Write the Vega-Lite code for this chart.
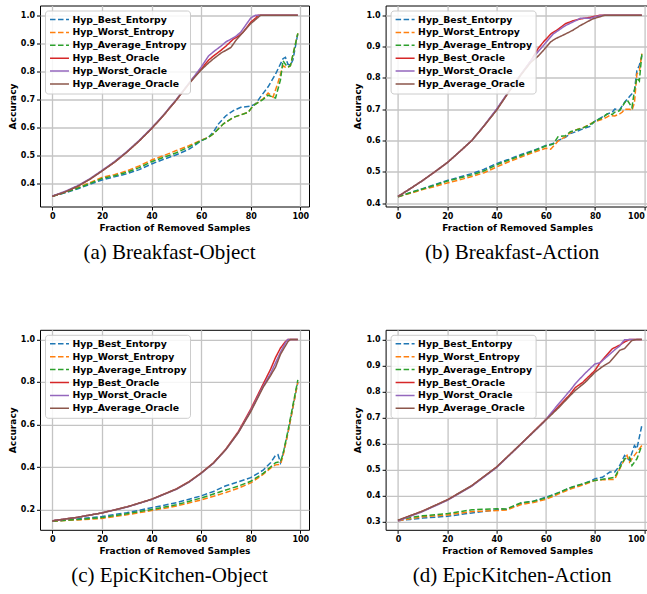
{
"$schema": "https://vega.github.io/schema/vega-lite/v6.json",
"background": "white",
"padding": {"left": 7, "top": 4.5, "right": 0, "bottom": 0},
"config": {
 "view": {"stroke": "black", "strokeWidth": 1},
 "axis": {"domain": false, "grid": true, "gridColor": "#c4c4c4", "gridWidth": 1.3, "tickColor": "black", "tickSize": 3.5, "labelFont": "DejaVu Sans", "labelFontWeight": "bold", "labelFontSize": 8, "labelColor": "black", "labelPadding": 2, "titleFont": "DejaVu Sans", "titleFontWeight": "bold", "titleFontSize": 9, "titleColor": "black"},
 "axisX": {"titlePadding": 3},
 "axisY": {"titlePadding": 3},
 "title": {"font": "Liberation Serif", "fontSize": 21, "fontWeight": "normal", "color": "black", "orient": "bottom", "anchor": "middle", "dx": -5, "offset": 10},
 "legend": {"orient": "top-left", "offset": 5, "title": null, "fillColor": "rgba(255,255,255,0.85)", "strokeColor": "#cccccc", "cornerRadius": 3, "padding": 3.5, "labelFont": "DejaVu Sans", "labelFontWeight": "bold", "labelFontSize": 9.3, "labelColor": "black", "symbolType": "M-2,0H2", "symbolSize": 90, "symbolStrokeWidth": 1.5, "symbolOffset": 5.5, "labelOffset": 7.5, "rowPadding": 1.9}
},
"datasets": {
 "d": [
  {"p":"a","s":"Hyp_Best_Entorpy","x":0,"y":0.355},{"p":"a","s":"Hyp_Best_Entorpy","x":5,"y":0.367},{"p":"a","s":"Hyp_Best_Entorpy","x":10,"y":0.381},{"p":"a","s":"Hyp_Best_Entorpy","x":15,"y":0.397},{"p":"a","s":"Hyp_Best_Entorpy","x":20,"y":0.413},{"p":"a","s":"Hyp_Best_Entorpy","x":25,"y":0.424},{"p":"a","s":"Hyp_Best_Entorpy","x":30,"y":0.435},{"p":"a","s":"Hyp_Best_Entorpy","x":35,"y":0.45},{"p":"a","s":"Hyp_Best_Entorpy","x":40,"y":0.47},{"p":"a","s":"Hyp_Best_Entorpy","x":45,"y":0.487},{"p":"a","s":"Hyp_Best_Entorpy","x":50,"y":0.503},{"p":"a","s":"Hyp_Best_Entorpy","x":55,"y":0.522},{"p":"a","s":"Hyp_Best_Entorpy","x":58,"y":0.54},{"p":"a","s":"Hyp_Best_Entorpy","x":60,"y":0.553},{"p":"a","s":"Hyp_Best_Entorpy","x":63,"y":0.565},{"p":"a","s":"Hyp_Best_Entorpy","x":65,"y":0.585},{"p":"a","s":"Hyp_Best_Entorpy","x":67,"y":0.613},{"p":"a","s":"Hyp_Best_Entorpy","x":70,"y":0.642},{"p":"a","s":"Hyp_Best_Entorpy","x":73,"y":0.66},{"p":"a","s":"Hyp_Best_Entorpy","x":76,"y":0.672},{"p":"a","s":"Hyp_Best_Entorpy","x":80,"y":0.676},{"p":"a","s":"Hyp_Best_Entorpy","x":82,"y":0.685},{"p":"a","s":"Hyp_Best_Entorpy","x":84,"y":0.71},{"p":"a","s":"Hyp_Best_Entorpy","x":87,"y":0.745},{"p":"a","s":"Hyp_Best_Entorpy","x":90,"y":0.79},{"p":"a","s":"Hyp_Best_Entorpy","x":93,"y":0.845},{"p":"a","s":"Hyp_Best_Entorpy","x":94,"y":0.85},{"p":"a","s":"Hyp_Best_Entorpy","x":95,"y":0.825},{"p":"a","s":"Hyp_Best_Entorpy","x":96,"y":0.822},{"p":"a","s":"Hyp_Best_Entorpy","x":97,"y":0.84},{"p":"a","s":"Hyp_Best_Entorpy","x":99,"y":0.935},
  {"p":"a","s":"Hyp_Worst_Entropy","x":0,"y":0.355},{"p":"a","s":"Hyp_Worst_Entropy","x":5,"y":0.37},{"p":"a","s":"Hyp_Worst_Entropy","x":10,"y":0.385},{"p":"a","s":"Hyp_Worst_Entropy","x":15,"y":0.403},{"p":"a","s":"Hyp_Worst_Entropy","x":20,"y":0.422},{"p":"a","s":"Hyp_Worst_Entropy","x":25,"y":0.432},{"p":"a","s":"Hyp_Worst_Entropy","x":30,"y":0.445},{"p":"a","s":"Hyp_Worst_Entropy","x":35,"y":0.463},{"p":"a","s":"Hyp_Worst_Entropy","x":40,"y":0.484},{"p":"a","s":"Hyp_Worst_Entropy","x":45,"y":0.5},{"p":"a","s":"Hyp_Worst_Entropy","x":50,"y":0.518},{"p":"a","s":"Hyp_Worst_Entropy","x":55,"y":0.535},{"p":"a","s":"Hyp_Worst_Entropy","x":60,"y":0.555},{"p":"a","s":"Hyp_Worst_Entropy","x":63,"y":0.565},{"p":"a","s":"Hyp_Worst_Entropy","x":65,"y":0.578},{"p":"a","s":"Hyp_Worst_Entropy","x":69,"y":0.613},{"p":"a","s":"Hyp_Worst_Entropy","x":73,"y":0.636},{"p":"a","s":"Hyp_Worst_Entropy","x":76,"y":0.645},{"p":"a","s":"Hyp_Worst_Entropy","x":79,"y":0.654},{"p":"a","s":"Hyp_Worst_Entropy","x":81,"y":0.678},{"p":"a","s":"Hyp_Worst_Entropy","x":85,"y":0.702},{"p":"a","s":"Hyp_Worst_Entropy","x":87,"y":0.723},{"p":"a","s":"Hyp_Worst_Entropy","x":89,"y":0.708},{"p":"a","s":"Hyp_Worst_Entropy","x":91,"y":0.76},{"p":"a","s":"Hyp_Worst_Entropy","x":93,"y":0.82},{"p":"a","s":"Hyp_Worst_Entropy","x":94,"y":0.815},{"p":"a","s":"Hyp_Worst_Entropy","x":95,"y":0.815},{"p":"a","s":"Hyp_Worst_Entropy","x":96,"y":0.82},{"p":"a","s":"Hyp_Worst_Entropy","x":99,"y":0.935},
  {"p":"a","s":"Hyp_Average_Entropy","x":0,"y":0.355},{"p":"a","s":"Hyp_Average_Entropy","x":5,"y":0.368},{"p":"a","s":"Hyp_Average_Entropy","x":10,"y":0.383},{"p":"a","s":"Hyp_Average_Entropy","x":15,"y":0.4},{"p":"a","s":"Hyp_Average_Entropy","x":20,"y":0.418},{"p":"a","s":"Hyp_Average_Entropy","x":25,"y":0.428},{"p":"a","s":"Hyp_Average_Entropy","x":30,"y":0.44},{"p":"a","s":"Hyp_Average_Entropy","x":35,"y":0.457},{"p":"a","s":"Hyp_Average_Entropy","x":40,"y":0.478},{"p":"a","s":"Hyp_Average_Entropy","x":45,"y":0.494},{"p":"a","s":"Hyp_Average_Entropy","x":50,"y":0.51},{"p":"a","s":"Hyp_Average_Entropy","x":55,"y":0.53},{"p":"a","s":"Hyp_Average_Entropy","x":60,"y":0.553},{"p":"a","s":"Hyp_Average_Entropy","x":63,"y":0.565},{"p":"a","s":"Hyp_Average_Entropy","x":65,"y":0.578},{"p":"a","s":"Hyp_Average_Entropy","x":69,"y":0.613},{"p":"a","s":"Hyp_Average_Entropy","x":73,"y":0.636},{"p":"a","s":"Hyp_Average_Entropy","x":76,"y":0.645},{"p":"a","s":"Hyp_Average_Entropy","x":79,"y":0.654},{"p":"a","s":"Hyp_Average_Entropy","x":81,"y":0.678},{"p":"a","s":"Hyp_Average_Entropy","x":85,"y":0.7},{"p":"a","s":"Hyp_Average_Entropy","x":87,"y":0.715},{"p":"a","s":"Hyp_Average_Entropy","x":90,"y":0.705},{"p":"a","s":"Hyp_Average_Entropy","x":92,"y":0.77},{"p":"a","s":"Hyp_Average_Entropy","x":93,"y":0.838},{"p":"a","s":"Hyp_Average_Entropy","x":94,"y":0.825},{"p":"a","s":"Hyp_Average_Entropy","x":95,"y":0.815},{"p":"a","s":"Hyp_Average_Entropy","x":96,"y":0.82},{"p":"a","s":"Hyp_Average_Entropy","x":99,"y":0.935},
  {"p":"a","s":"Hyp_Best_Oracle","x":0,"y":0.355},{"p":"a","s":"Hyp_Best_Oracle","x":5,"y":0.37},{"p":"a","s":"Hyp_Best_Oracle","x":10,"y":0.39},{"p":"a","s":"Hyp_Best_Oracle","x":15,"y":0.415},{"p":"a","s":"Hyp_Best_Oracle","x":20,"y":0.445},{"p":"a","s":"Hyp_Best_Oracle","x":25,"y":0.476},{"p":"a","s":"Hyp_Best_Oracle","x":30,"y":0.512},{"p":"a","s":"Hyp_Best_Oracle","x":35,"y":0.552},{"p":"a","s":"Hyp_Best_Oracle","x":40,"y":0.596},{"p":"a","s":"Hyp_Best_Oracle","x":45,"y":0.645},{"p":"a","s":"Hyp_Best_Oracle","x":50,"y":0.698},{"p":"a","s":"Hyp_Best_Oracle","x":55,"y":0.755},{"p":"a","s":"Hyp_Best_Oracle","x":57,"y":0.778},{"p":"a","s":"Hyp_Best_Oracle","x":60,"y":0.808},{"p":"a","s":"Hyp_Best_Oracle","x":63,"y":0.84},{"p":"a","s":"Hyp_Best_Oracle","x":65,"y":0.855},{"p":"a","s":"Hyp_Best_Oracle","x":68,"y":0.875},{"p":"a","s":"Hyp_Best_Oracle","x":70,"y":0.89},{"p":"a","s":"Hyp_Best_Oracle","x":73,"y":0.915},{"p":"a","s":"Hyp_Best_Oracle","x":75,"y":0.925},{"p":"a","s":"Hyp_Best_Oracle","x":77,"y":0.94},{"p":"a","s":"Hyp_Best_Oracle","x":80,"y":0.975},{"p":"a","s":"Hyp_Best_Oracle","x":82,"y":0.99},{"p":"a","s":"Hyp_Best_Oracle","x":83,"y":1.0},{"p":"a","s":"Hyp_Best_Oracle","x":99,"y":1.0},
  {"p":"a","s":"Hyp_Worst_Oracle","x":0,"y":0.356},{"p":"a","s":"Hyp_Worst_Oracle","x":5,"y":0.372},{"p":"a","s":"Hyp_Worst_Oracle","x":10,"y":0.392},{"p":"a","s":"Hyp_Worst_Oracle","x":15,"y":0.417},{"p":"a","s":"Hyp_Worst_Oracle","x":20,"y":0.447},{"p":"a","s":"Hyp_Worst_Oracle","x":25,"y":0.478},{"p":"a","s":"Hyp_Worst_Oracle","x":30,"y":0.514},{"p":"a","s":"Hyp_Worst_Oracle","x":35,"y":0.554},{"p":"a","s":"Hyp_Worst_Oracle","x":40,"y":0.598},{"p":"a","s":"Hyp_Worst_Oracle","x":45,"y":0.647},{"p":"a","s":"Hyp_Worst_Oracle","x":50,"y":0.7},{"p":"a","s":"Hyp_Worst_Oracle","x":55,"y":0.757},{"p":"a","s":"Hyp_Worst_Oracle","x":57,"y":0.78},{"p":"a","s":"Hyp_Worst_Oracle","x":60,"y":0.815},{"p":"a","s":"Hyp_Worst_Oracle","x":63,"y":0.855},{"p":"a","s":"Hyp_Worst_Oracle","x":65,"y":0.87},{"p":"a","s":"Hyp_Worst_Oracle","x":68,"y":0.89},{"p":"a","s":"Hyp_Worst_Oracle","x":70,"y":0.905},{"p":"a","s":"Hyp_Worst_Oracle","x":72,"y":0.915},{"p":"a","s":"Hyp_Worst_Oracle","x":74,"y":0.925},{"p":"a","s":"Hyp_Worst_Oracle","x":76,"y":0.94},{"p":"a","s":"Hyp_Worst_Oracle","x":78,"y":0.965},{"p":"a","s":"Hyp_Worst_Oracle","x":80,"y":0.99},{"p":"a","s":"Hyp_Worst_Oracle","x":82,"y":1.0},{"p":"a","s":"Hyp_Worst_Oracle","x":99,"y":1.0},
  {"p":"a","s":"Hyp_Average_Oracle","x":0,"y":0.355},{"p":"a","s":"Hyp_Average_Oracle","x":5,"y":0.37},{"p":"a","s":"Hyp_Average_Oracle","x":10,"y":0.39},{"p":"a","s":"Hyp_Average_Oracle","x":15,"y":0.415},{"p":"a","s":"Hyp_Average_Oracle","x":20,"y":0.445},{"p":"a","s":"Hyp_Average_Oracle","x":25,"y":0.476},{"p":"a","s":"Hyp_Average_Oracle","x":30,"y":0.512},{"p":"a","s":"Hyp_Average_Oracle","x":35,"y":0.552},{"p":"a","s":"Hyp_Average_Oracle","x":40,"y":0.596},{"p":"a","s":"Hyp_Average_Oracle","x":45,"y":0.645},{"p":"a","s":"Hyp_Average_Oracle","x":50,"y":0.698},{"p":"a","s":"Hyp_Average_Oracle","x":55,"y":0.755},{"p":"a","s":"Hyp_Average_Oracle","x":57,"y":0.775},{"p":"a","s":"Hyp_Average_Oracle","x":60,"y":0.805},{"p":"a","s":"Hyp_Average_Oracle","x":63,"y":0.83},{"p":"a","s":"Hyp_Average_Oracle","x":65,"y":0.845},{"p":"a","s":"Hyp_Average_Oracle","x":68,"y":0.865},{"p":"a","s":"Hyp_Average_Oracle","x":70,"y":0.875},{"p":"a","s":"Hyp_Average_Oracle","x":72,"y":0.885},{"p":"a","s":"Hyp_Average_Oracle","x":74,"y":0.91},{"p":"a","s":"Hyp_Average_Oracle","x":76,"y":0.93},{"p":"a","s":"Hyp_Average_Oracle","x":78,"y":0.95},{"p":"a","s":"Hyp_Average_Oracle","x":80,"y":0.97},{"p":"a","s":"Hyp_Average_Oracle","x":82,"y":0.985},{"p":"a","s":"Hyp_Average_Oracle","x":84,"y":1.0},{"p":"a","s":"Hyp_Average_Oracle","x":99,"y":1.0},

  {"p":"b","s":"Hyp_Best_Entorpy","x":0,"y":0.42},{"p":"b","s":"Hyp_Best_Entorpy","x":5,"y":0.433},{"p":"b","s":"Hyp_Best_Entorpy","x":10,"y":0.446},{"p":"b","s":"Hyp_Best_Entorpy","x":15,"y":0.459},{"p":"b","s":"Hyp_Best_Entorpy","x":20,"y":0.472},{"p":"b","s":"Hyp_Best_Entorpy","x":25,"y":0.483},{"p":"b","s":"Hyp_Best_Entorpy","x":30,"y":0.494},{"p":"b","s":"Hyp_Best_Entorpy","x":35,"y":0.508},{"p":"b","s":"Hyp_Best_Entorpy","x":40,"y":0.526},{"p":"b","s":"Hyp_Best_Entorpy","x":45,"y":0.54},{"p":"b","s":"Hyp_Best_Entorpy","x":50,"y":0.555},{"p":"b","s":"Hyp_Best_Entorpy","x":55,"y":0.568},{"p":"b","s":"Hyp_Best_Entorpy","x":60,"y":0.584},{"p":"b","s":"Hyp_Best_Entorpy","x":63,"y":0.59},{"p":"b","s":"Hyp_Best_Entorpy","x":65,"y":0.6},{"p":"b","s":"Hyp_Best_Entorpy","x":68,"y":0.61},{"p":"b","s":"Hyp_Best_Entorpy","x":70,"y":0.622},{"p":"b","s":"Hyp_Best_Entorpy","x":73,"y":0.63},{"p":"b","s":"Hyp_Best_Entorpy","x":75,"y":0.637},{"p":"b","s":"Hyp_Best_Entorpy","x":78,"y":0.645},{"p":"b","s":"Hyp_Best_Entorpy","x":80,"y":0.662},{"p":"b","s":"Hyp_Best_Entorpy","x":83,"y":0.675},{"p":"b","s":"Hyp_Best_Entorpy","x":85,"y":0.685},{"p":"b","s":"Hyp_Best_Entorpy","x":87,"y":0.69},{"p":"b","s":"Hyp_Best_Entorpy","x":88,"y":0.7},{"p":"b","s":"Hyp_Best_Entorpy","x":90,"y":0.698},{"p":"b","s":"Hyp_Best_Entorpy","x":92,"y":0.722},{"p":"b","s":"Hyp_Best_Entorpy","x":94,"y":0.74},{"p":"b","s":"Hyp_Best_Entorpy","x":95,"y":0.749},{"p":"b","s":"Hyp_Best_Entorpy","x":96,"y":0.76},{"p":"b","s":"Hyp_Best_Entorpy","x":97,"y":0.823},{"p":"b","s":"Hyp_Best_Entorpy","x":98,"y":0.84},{"p":"b","s":"Hyp_Best_Entorpy","x":99,"y":0.871},
  {"p":"b","s":"Hyp_Worst_Entropy","x":0,"y":0.42},{"p":"b","s":"Hyp_Worst_Entropy","x":5,"y":0.431},{"p":"b","s":"Hyp_Worst_Entropy","x":10,"y":0.443},{"p":"b","s":"Hyp_Worst_Entropy","x":15,"y":0.453},{"p":"b","s":"Hyp_Worst_Entropy","x":20,"y":0.464},{"p":"b","s":"Hyp_Worst_Entropy","x":25,"y":0.474},{"p":"b","s":"Hyp_Worst_Entropy","x":30,"y":0.485},{"p":"b","s":"Hyp_Worst_Entropy","x":35,"y":0.497},{"p":"b","s":"Hyp_Worst_Entropy","x":40,"y":0.515},{"p":"b","s":"Hyp_Worst_Entropy","x":45,"y":0.532},{"p":"b","s":"Hyp_Worst_Entropy","x":50,"y":0.547},{"p":"b","s":"Hyp_Worst_Entropy","x":55,"y":0.562},{"p":"b","s":"Hyp_Worst_Entropy","x":60,"y":0.575},{"p":"b","s":"Hyp_Worst_Entropy","x":62,"y":0.572},{"p":"b","s":"Hyp_Worst_Entropy","x":65,"y":0.598},{"p":"b","s":"Hyp_Worst_Entropy","x":68,"y":0.612},{"p":"b","s":"Hyp_Worst_Entropy","x":70,"y":0.625},{"p":"b","s":"Hyp_Worst_Entropy","x":73,"y":0.636},{"p":"b","s":"Hyp_Worst_Entropy","x":75,"y":0.64},{"p":"b","s":"Hyp_Worst_Entropy","x":78,"y":0.653},{"p":"b","s":"Hyp_Worst_Entropy","x":80,"y":0.66},{"p":"b","s":"Hyp_Worst_Entropy","x":83,"y":0.668},{"p":"b","s":"Hyp_Worst_Entropy","x":85,"y":0.675},{"p":"b","s":"Hyp_Worst_Entropy","x":86,"y":0.68},{"p":"b","s":"Hyp_Worst_Entropy","x":88,"y":0.678},{"p":"b","s":"Hyp_Worst_Entropy","x":90,"y":0.685},{"p":"b","s":"Hyp_Worst_Entropy","x":91,"y":0.69},{"p":"b","s":"Hyp_Worst_Entropy","x":92,"y":0.7},{"p":"b","s":"Hyp_Worst_Entropy","x":94,"y":0.7},{"p":"b","s":"Hyp_Worst_Entropy","x":95,"y":0.696},{"p":"b","s":"Hyp_Worst_Entropy","x":96,"y":0.72},{"p":"b","s":"Hyp_Worst_Entropy","x":97,"y":0.813},{"p":"b","s":"Hyp_Worst_Entropy","x":98,"y":0.82},{"p":"b","s":"Hyp_Worst_Entropy","x":99,"y":0.877},
  {"p":"b","s":"Hyp_Average_Entropy","x":0,"y":0.42},{"p":"b","s":"Hyp_Average_Entropy","x":5,"y":0.433},{"p":"b","s":"Hyp_Average_Entropy","x":10,"y":0.445},{"p":"b","s":"Hyp_Average_Entropy","x":15,"y":0.457},{"p":"b","s":"Hyp_Average_Entropy","x":20,"y":0.47},{"p":"b","s":"Hyp_Average_Entropy","x":25,"y":0.48},{"p":"b","s":"Hyp_Average_Entropy","x":30,"y":0.49},{"p":"b","s":"Hyp_Average_Entropy","x":35,"y":0.503},{"p":"b","s":"Hyp_Average_Entropy","x":40,"y":0.522},{"p":"b","s":"Hyp_Average_Entropy","x":45,"y":0.537},{"p":"b","s":"Hyp_Average_Entropy","x":50,"y":0.552},{"p":"b","s":"Hyp_Average_Entropy","x":55,"y":0.566},{"p":"b","s":"Hyp_Average_Entropy","x":60,"y":0.582},{"p":"b","s":"Hyp_Average_Entropy","x":63,"y":0.588},{"p":"b","s":"Hyp_Average_Entropy","x":65,"y":0.612},{"p":"b","s":"Hyp_Average_Entropy","x":68,"y":0.615},{"p":"b","s":"Hyp_Average_Entropy","x":70,"y":0.628},{"p":"b","s":"Hyp_Average_Entropy","x":73,"y":0.635},{"p":"b","s":"Hyp_Average_Entropy","x":75,"y":0.64},{"p":"b","s":"Hyp_Average_Entropy","x":78,"y":0.65},{"p":"b","s":"Hyp_Average_Entropy","x":80,"y":0.662},{"p":"b","s":"Hyp_Average_Entropy","x":83,"y":0.672},{"p":"b","s":"Hyp_Average_Entropy","x":85,"y":0.685},{"p":"b","s":"Hyp_Average_Entropy","x":87,"y":0.683},{"p":"b","s":"Hyp_Average_Entropy","x":88,"y":0.69},{"p":"b","s":"Hyp_Average_Entropy","x":90,"y":0.695},{"p":"b","s":"Hyp_Average_Entropy","x":92,"y":0.72},{"p":"b","s":"Hyp_Average_Entropy","x":93,"y":0.73},{"p":"b","s":"Hyp_Average_Entropy","x":95,"y":0.705},{"p":"b","s":"Hyp_Average_Entropy","x":96,"y":0.76},{"p":"b","s":"Hyp_Average_Entropy","x":97,"y":0.8},{"p":"b","s":"Hyp_Average_Entropy","x":98,"y":0.79},{"p":"b","s":"Hyp_Average_Entropy","x":99,"y":0.875},
  {"p":"b","s":"Hyp_Best_Oracle","x":0,"y":0.421},{"p":"b","s":"Hyp_Best_Oracle","x":5,"y":0.446},{"p":"b","s":"Hyp_Best_Oracle","x":10,"y":0.472},{"p":"b","s":"Hyp_Best_Oracle","x":15,"y":0.5},{"p":"b","s":"Hyp_Best_Oracle","x":20,"y":0.529},{"p":"b","s":"Hyp_Best_Oracle","x":25,"y":0.564},{"p":"b","s":"Hyp_Best_Oracle","x":30,"y":0.6},{"p":"b","s":"Hyp_Best_Oracle","x":35,"y":0.647},{"p":"b","s":"Hyp_Best_Oracle","x":40,"y":0.698},{"p":"b","s":"Hyp_Best_Oracle","x":45,"y":0.755},{"p":"b","s":"Hyp_Best_Oracle","x":50,"y":0.812},{"p":"b","s":"Hyp_Best_Oracle","x":54,"y":0.855},{"p":"b","s":"Hyp_Best_Oracle","x":57,"y":0.895},{"p":"b","s":"Hyp_Best_Oracle","x":59,"y":0.914},{"p":"b","s":"Hyp_Best_Oracle","x":62,"y":0.94},{"p":"b","s":"Hyp_Best_Oracle","x":65,"y":0.955},{"p":"b","s":"Hyp_Best_Oracle","x":68,"y":0.973},{"p":"b","s":"Hyp_Best_Oracle","x":71,"y":0.982},{"p":"b","s":"Hyp_Best_Oracle","x":74,"y":0.988},{"p":"b","s":"Hyp_Best_Oracle","x":78,"y":0.993},{"p":"b","s":"Hyp_Best_Oracle","x":82,"y":1.0},{"p":"b","s":"Hyp_Best_Oracle","x":99,"y":1.0},
  {"p":"b","s":"Hyp_Worst_Oracle","x":0,"y":0.421},{"p":"b","s":"Hyp_Worst_Oracle","x":5,"y":0.446},{"p":"b","s":"Hyp_Worst_Oracle","x":10,"y":0.472},{"p":"b","s":"Hyp_Worst_Oracle","x":15,"y":0.5},{"p":"b","s":"Hyp_Worst_Oracle","x":20,"y":0.529},{"p":"b","s":"Hyp_Worst_Oracle","x":25,"y":0.564},{"p":"b","s":"Hyp_Worst_Oracle","x":30,"y":0.6},{"p":"b","s":"Hyp_Worst_Oracle","x":35,"y":0.648},{"p":"b","s":"Hyp_Worst_Oracle","x":40,"y":0.7},{"p":"b","s":"Hyp_Worst_Oracle","x":45,"y":0.757},{"p":"b","s":"Hyp_Worst_Oracle","x":50,"y":0.812},{"p":"b","s":"Hyp_Worst_Oracle","x":54,"y":0.855},{"p":"b","s":"Hyp_Worst_Oracle","x":57,"y":0.885},{"p":"b","s":"Hyp_Worst_Oracle","x":59,"y":0.903},{"p":"b","s":"Hyp_Worst_Oracle","x":63,"y":0.94},{"p":"b","s":"Hyp_Worst_Oracle","x":68,"y":0.967},{"p":"b","s":"Hyp_Worst_Oracle","x":72,"y":0.982},{"p":"b","s":"Hyp_Worst_Oracle","x":74,"y":0.99},{"p":"b","s":"Hyp_Worst_Oracle","x":78,"y":0.99},{"p":"b","s":"Hyp_Worst_Oracle","x":80,"y":0.995},{"p":"b","s":"Hyp_Worst_Oracle","x":83,"y":1.0},{"p":"b","s":"Hyp_Worst_Oracle","x":99,"y":1.0},
  {"p":"b","s":"Hyp_Average_Oracle","x":0,"y":0.421},{"p":"b","s":"Hyp_Average_Oracle","x":5,"y":0.446},{"p":"b","s":"Hyp_Average_Oracle","x":10,"y":0.472},{"p":"b","s":"Hyp_Average_Oracle","x":15,"y":0.5},{"p":"b","s":"Hyp_Average_Oracle","x":20,"y":0.529},{"p":"b","s":"Hyp_Average_Oracle","x":25,"y":0.564},{"p":"b","s":"Hyp_Average_Oracle","x":30,"y":0.6},{"p":"b","s":"Hyp_Average_Oracle","x":35,"y":0.647},{"p":"b","s":"Hyp_Average_Oracle","x":40,"y":0.696},{"p":"b","s":"Hyp_Average_Oracle","x":45,"y":0.755},{"p":"b","s":"Hyp_Average_Oracle","x":50,"y":0.81},{"p":"b","s":"Hyp_Average_Oracle","x":54,"y":0.85},{"p":"b","s":"Hyp_Average_Oracle","x":57,"y":0.87},{"p":"b","s":"Hyp_Average_Oracle","x":59,"y":0.887},{"p":"b","s":"Hyp_Average_Oracle","x":62,"y":0.915},{"p":"b","s":"Hyp_Average_Oracle","x":64,"y":0.925},{"p":"b","s":"Hyp_Average_Oracle","x":68,"y":0.94},{"p":"b","s":"Hyp_Average_Oracle","x":71,"y":0.952},{"p":"b","s":"Hyp_Average_Oracle","x":74,"y":0.967},{"p":"b","s":"Hyp_Average_Oracle","x":79,"y":0.988},{"p":"b","s":"Hyp_Average_Oracle","x":84,"y":1.0},{"p":"b","s":"Hyp_Average_Oracle","x":99,"y":1.0},

  {"p":"c","s":"Hyp_Best_Entorpy","x":0,"y":0.145},{"p":"c","s":"Hyp_Best_Entorpy","x":10,"y":0.155},{"p":"c","s":"Hyp_Best_Entorpy","x":20,"y":0.167},{"p":"c","s":"Hyp_Best_Entorpy","x":30,"y":0.185},{"p":"c","s":"Hyp_Best_Entorpy","x":40,"y":0.208},{"p":"c","s":"Hyp_Best_Entorpy","x":50,"y":0.232},{"p":"c","s":"Hyp_Best_Entorpy","x":60,"y":0.264},{"p":"c","s":"Hyp_Best_Entorpy","x":65,"y":0.285},{"p":"c","s":"Hyp_Best_Entorpy","x":70,"y":0.312},{"p":"c","s":"Hyp_Best_Entorpy","x":75,"y":0.33},{"p":"c","s":"Hyp_Best_Entorpy","x":80,"y":0.35},{"p":"c","s":"Hyp_Best_Entorpy","x":85,"y":0.385},{"p":"c","s":"Hyp_Best_Entorpy","x":88,"y":0.42},{"p":"c","s":"Hyp_Best_Entorpy","x":90,"y":0.455},{"p":"c","s":"Hyp_Best_Entorpy","x":91,"y":0.458},{"p":"c","s":"Hyp_Best_Entorpy","x":92,"y":0.42},{"p":"c","s":"Hyp_Best_Entorpy","x":93,"y":0.46},{"p":"c","s":"Hyp_Best_Entorpy","x":95,"y":0.56},{"p":"c","s":"Hyp_Best_Entorpy","x":97,"y":0.68},{"p":"c","s":"Hyp_Best_Entorpy","x":99,"y":0.8},
  {"p":"c","s":"Hyp_Worst_Entropy","x":0,"y":0.145},{"p":"c","s":"Hyp_Worst_Entropy","x":10,"y":0.151},{"p":"c","s":"Hyp_Worst_Entropy","x":20,"y":0.158},{"p":"c","s":"Hyp_Worst_Entropy","x":30,"y":0.175},{"p":"c","s":"Hyp_Worst_Entropy","x":40,"y":0.195},{"p":"c","s":"Hyp_Worst_Entropy","x":50,"y":0.216},{"p":"c","s":"Hyp_Worst_Entropy","x":60,"y":0.245},{"p":"c","s":"Hyp_Worst_Entropy","x":70,"y":0.28},{"p":"c","s":"Hyp_Worst_Entropy","x":75,"y":0.3},{"p":"c","s":"Hyp_Worst_Entropy","x":80,"y":0.325},{"p":"c","s":"Hyp_Worst_Entropy","x":85,"y":0.365},{"p":"c","s":"Hyp_Worst_Entropy","x":88,"y":0.395},{"p":"c","s":"Hyp_Worst_Entropy","x":90,"y":0.41},{"p":"c","s":"Hyp_Worst_Entropy","x":92,"y":0.413},{"p":"c","s":"Hyp_Worst_Entropy","x":93,"y":0.45},{"p":"c","s":"Hyp_Worst_Entropy","x":95,"y":0.56},{"p":"c","s":"Hyp_Worst_Entropy","x":97,"y":0.68},{"p":"c","s":"Hyp_Worst_Entropy","x":99,"y":0.8},
  {"p":"c","s":"Hyp_Average_Entropy","x":0,"y":0.145},{"p":"c","s":"Hyp_Average_Entropy","x":10,"y":0.153},{"p":"c","s":"Hyp_Average_Entropy","x":20,"y":0.162},{"p":"c","s":"Hyp_Average_Entropy","x":30,"y":0.18},{"p":"c","s":"Hyp_Average_Entropy","x":40,"y":0.2},{"p":"c","s":"Hyp_Average_Entropy","x":50,"y":0.222},{"p":"c","s":"Hyp_Average_Entropy","x":60,"y":0.254},{"p":"c","s":"Hyp_Average_Entropy","x":70,"y":0.292},{"p":"c","s":"Hyp_Average_Entropy","x":75,"y":0.31},{"p":"c","s":"Hyp_Average_Entropy","x":80,"y":0.333},{"p":"c","s":"Hyp_Average_Entropy","x":85,"y":0.37},{"p":"c","s":"Hyp_Average_Entropy","x":88,"y":0.4},{"p":"c","s":"Hyp_Average_Entropy","x":90,"y":0.42},{"p":"c","s":"Hyp_Average_Entropy","x":92,"y":0.425},{"p":"c","s":"Hyp_Average_Entropy","x":93,"y":0.46},{"p":"c","s":"Hyp_Average_Entropy","x":95,"y":0.57},{"p":"c","s":"Hyp_Average_Entropy","x":97,"y":0.69},{"p":"c","s":"Hyp_Average_Entropy","x":99,"y":0.81},
  {"p":"c","s":"Hyp_Best_Oracle","x":0,"y":0.147},{"p":"c","s":"Hyp_Best_Oracle","x":10,"y":0.163},{"p":"c","s":"Hyp_Best_Oracle","x":20,"y":0.184},{"p":"c","s":"Hyp_Best_Oracle","x":30,"y":0.212},{"p":"c","s":"Hyp_Best_Oracle","x":40,"y":0.248},{"p":"c","s":"Hyp_Best_Oracle","x":50,"y":0.297},{"p":"c","s":"Hyp_Best_Oracle","x":55,"y":0.33},{"p":"c","s":"Hyp_Best_Oracle","x":60,"y":0.372},{"p":"c","s":"Hyp_Best_Oracle","x":65,"y":0.42},{"p":"c","s":"Hyp_Best_Oracle","x":70,"y":0.485},{"p":"c","s":"Hyp_Best_Oracle","x":75,"y":0.567},{"p":"c","s":"Hyp_Best_Oracle","x":80,"y":0.672},{"p":"c","s":"Hyp_Best_Oracle","x":85,"y":0.79},{"p":"c","s":"Hyp_Best_Oracle","x":88,"y":0.86},{"p":"c","s":"Hyp_Best_Oracle","x":90,"y":0.915},{"p":"c","s":"Hyp_Best_Oracle","x":92,"y":0.96},{"p":"c","s":"Hyp_Best_Oracle","x":94,"y":0.99},{"p":"c","s":"Hyp_Best_Oracle","x":95,"y":1.0},{"p":"c","s":"Hyp_Best_Oracle","x":99,"y":1.0},
  {"p":"c","s":"Hyp_Worst_Oracle","x":0,"y":0.147},{"p":"c","s":"Hyp_Worst_Oracle","x":10,"y":0.163},{"p":"c","s":"Hyp_Worst_Oracle","x":20,"y":0.184},{"p":"c","s":"Hyp_Worst_Oracle","x":30,"y":0.211},{"p":"c","s":"Hyp_Worst_Oracle","x":40,"y":0.247},{"p":"c","s":"Hyp_Worst_Oracle","x":50,"y":0.295},{"p":"c","s":"Hyp_Worst_Oracle","x":55,"y":0.328},{"p":"c","s":"Hyp_Worst_Oracle","x":60,"y":0.37},{"p":"c","s":"Hyp_Worst_Oracle","x":65,"y":0.418},{"p":"c","s":"Hyp_Worst_Oracle","x":70,"y":0.482},{"p":"c","s":"Hyp_Worst_Oracle","x":75,"y":0.562},{"p":"c","s":"Hyp_Worst_Oracle","x":80,"y":0.665},{"p":"c","s":"Hyp_Worst_Oracle","x":85,"y":0.78},{"p":"c","s":"Hyp_Worst_Oracle","x":88,"y":0.84},{"p":"c","s":"Hyp_Worst_Oracle","x":90,"y":0.89},{"p":"c","s":"Hyp_Worst_Oracle","x":92,"y":0.94},{"p":"c","s":"Hyp_Worst_Oracle","x":94,"y":0.985},{"p":"c","s":"Hyp_Worst_Oracle","x":95,"y":1.0},{"p":"c","s":"Hyp_Worst_Oracle","x":99,"y":1.0},
  {"p":"c","s":"Hyp_Average_Oracle","x":0,"y":0.147},{"p":"c","s":"Hyp_Average_Oracle","x":10,"y":0.163},{"p":"c","s":"Hyp_Average_Oracle","x":20,"y":0.184},{"p":"c","s":"Hyp_Average_Oracle","x":30,"y":0.212},{"p":"c","s":"Hyp_Average_Oracle","x":40,"y":0.248},{"p":"c","s":"Hyp_Average_Oracle","x":50,"y":0.296},{"p":"c","s":"Hyp_Average_Oracle","x":55,"y":0.329},{"p":"c","s":"Hyp_Average_Oracle","x":60,"y":0.371},{"p":"c","s":"Hyp_Average_Oracle","x":65,"y":0.419},{"p":"c","s":"Hyp_Average_Oracle","x":70,"y":0.483},{"p":"c","s":"Hyp_Average_Oracle","x":75,"y":0.562},{"p":"c","s":"Hyp_Average_Oracle","x":80,"y":0.66},{"p":"c","s":"Hyp_Average_Oracle","x":85,"y":0.775},{"p":"c","s":"Hyp_Average_Oracle","x":88,"y":0.83},{"p":"c","s":"Hyp_Average_Oracle","x":90,"y":0.87},{"p":"c","s":"Hyp_Average_Oracle","x":92,"y":0.93},{"p":"c","s":"Hyp_Average_Oracle","x":94,"y":0.97},{"p":"c","s":"Hyp_Average_Oracle","x":95,"y":0.99},{"p":"c","s":"Hyp_Average_Oracle","x":96,"y":1.0},{"p":"c","s":"Hyp_Average_Oracle","x":99,"y":1.0},

  {"p":"d","s":"Hyp_Best_Entorpy","x":0,"y":0.303},{"p":"d","s":"Hyp_Best_Entorpy","x":5,"y":0.308},{"p":"d","s":"Hyp_Best_Entorpy","x":10,"y":0.313},{"p":"d","s":"Hyp_Best_Entorpy","x":20,"y":0.32},{"p":"d","s":"Hyp_Best_Entorpy","x":30,"y":0.333},{"p":"d","s":"Hyp_Best_Entorpy","x":40,"y":0.345},{"p":"d","s":"Hyp_Best_Entorpy","x":44,"y":0.347},{"p":"d","s":"Hyp_Best_Entorpy","x":50,"y":0.37},{"p":"d","s":"Hyp_Best_Entorpy","x":55,"y":0.378},{"p":"d","s":"Hyp_Best_Entorpy","x":60,"y":0.393},{"p":"d","s":"Hyp_Best_Entorpy","x":65,"y":0.41},{"p":"d","s":"Hyp_Best_Entorpy","x":70,"y":0.43},{"p":"d","s":"Hyp_Best_Entorpy","x":75,"y":0.443},{"p":"d","s":"Hyp_Best_Entorpy","x":80,"y":0.464},{"p":"d","s":"Hyp_Best_Entorpy","x":83,"y":0.47},{"p":"d","s":"Hyp_Best_Entorpy","x":86,"y":0.49},{"p":"d","s":"Hyp_Best_Entorpy","x":88,"y":0.49},{"p":"d","s":"Hyp_Best_Entorpy","x":90,"y":0.515},{"p":"d","s":"Hyp_Best_Entorpy","x":92,"y":0.554},{"p":"d","s":"Hyp_Best_Entorpy","x":94,"y":0.535},{"p":"d","s":"Hyp_Best_Entorpy","x":96,"y":0.592},{"p":"d","s":"Hyp_Best_Entorpy","x":97,"y":0.58},{"p":"d","s":"Hyp_Best_Entorpy","x":99,"y":0.669},
  {"p":"d","s":"Hyp_Worst_Entropy","x":0,"y":0.303},{"p":"d","s":"Hyp_Worst_Entropy","x":5,"y":0.31},{"p":"d","s":"Hyp_Worst_Entropy","x":10,"y":0.318},{"p":"d","s":"Hyp_Worst_Entropy","x":20,"y":0.325},{"p":"d","s":"Hyp_Worst_Entropy","x":30,"y":0.338},{"p":"d","s":"Hyp_Worst_Entropy","x":40,"y":0.342},{"p":"d","s":"Hyp_Worst_Entropy","x":44,"y":0.344},{"p":"d","s":"Hyp_Worst_Entropy","x":50,"y":0.365},{"p":"d","s":"Hyp_Worst_Entropy","x":55,"y":0.373},{"p":"d","s":"Hyp_Worst_Entropy","x":60,"y":0.385},{"p":"d","s":"Hyp_Worst_Entropy","x":65,"y":0.405},{"p":"d","s":"Hyp_Worst_Entropy","x":70,"y":0.425},{"p":"d","s":"Hyp_Worst_Entropy","x":75,"y":0.44},{"p":"d","s":"Hyp_Worst_Entropy","x":80,"y":0.458},{"p":"d","s":"Hyp_Worst_Entropy","x":83,"y":0.46},{"p":"d","s":"Hyp_Worst_Entropy","x":88,"y":0.462},{"p":"d","s":"Hyp_Worst_Entropy","x":91,"y":0.522},{"p":"d","s":"Hyp_Worst_Entropy","x":93,"y":0.554},{"p":"d","s":"Hyp_Worst_Entropy","x":94,"y":0.528},{"p":"d","s":"Hyp_Worst_Entropy","x":96,"y":0.554},{"p":"d","s":"Hyp_Worst_Entropy","x":99,"y":0.592},
  {"p":"d","s":"Hyp_Average_Entropy","x":0,"y":0.305},{"p":"d","s":"Hyp_Average_Entropy","x":5,"y":0.315},{"p":"d","s":"Hyp_Average_Entropy","x":10,"y":0.322},{"p":"d","s":"Hyp_Average_Entropy","x":20,"y":0.33},{"p":"d","s":"Hyp_Average_Entropy","x":30,"y":0.345},{"p":"d","s":"Hyp_Average_Entropy","x":40,"y":0.349},{"p":"d","s":"Hyp_Average_Entropy","x":44,"y":0.348},{"p":"d","s":"Hyp_Average_Entropy","x":50,"y":0.372},{"p":"d","s":"Hyp_Average_Entropy","x":55,"y":0.378},{"p":"d","s":"Hyp_Average_Entropy","x":60,"y":0.39},{"p":"d","s":"Hyp_Average_Entropy","x":65,"y":0.41},{"p":"d","s":"Hyp_Average_Entropy","x":70,"y":0.43},{"p":"d","s":"Hyp_Average_Entropy","x":75,"y":0.445},{"p":"d","s":"Hyp_Average_Entropy","x":80,"y":0.458},{"p":"d","s":"Hyp_Average_Entropy","x":83,"y":0.462},{"p":"d","s":"Hyp_Average_Entropy","x":88,"y":0.47},{"p":"d","s":"Hyp_Average_Entropy","x":92,"y":0.541},{"p":"d","s":"Hyp_Average_Entropy","x":94,"y":0.547},{"p":"d","s":"Hyp_Average_Entropy","x":95,"y":0.515},{"p":"d","s":"Hyp_Average_Entropy","x":97,"y":0.541},{"p":"d","s":"Hyp_Average_Entropy","x":99,"y":0.592},
  {"p":"d","s":"Hyp_Best_Oracle","x":0,"y":0.304},{"p":"d","s":"Hyp_Best_Oracle","x":10,"y":0.34},{"p":"d","s":"Hyp_Best_Oracle","x":20,"y":0.383},{"p":"d","s":"Hyp_Best_Oracle","x":30,"y":0.438},{"p":"d","s":"Hyp_Best_Oracle","x":40,"y":0.509},{"p":"d","s":"Hyp_Best_Oracle","x":50,"y":0.599},{"p":"d","s":"Hyp_Best_Oracle","x":60,"y":0.692},{"p":"d","s":"Hyp_Best_Oracle","x":65,"y":0.74},{"p":"d","s":"Hyp_Best_Oracle","x":70,"y":0.79},{"p":"d","s":"Hyp_Best_Oracle","x":72,"y":0.815},{"p":"d","s":"Hyp_Best_Oracle","x":75,"y":0.835},{"p":"d","s":"Hyp_Best_Oracle","x":80,"y":0.881},{"p":"d","s":"Hyp_Best_Oracle","x":82,"y":0.91},{"p":"d","s":"Hyp_Best_Oracle","x":84,"y":0.932},{"p":"d","s":"Hyp_Best_Oracle","x":87,"y":0.964},{"p":"d","s":"Hyp_Best_Oracle","x":90,"y":0.978},{"p":"d","s":"Hyp_Best_Oracle","x":92,"y":0.99},{"p":"d","s":"Hyp_Best_Oracle","x":94,"y":1.0},{"p":"d","s":"Hyp_Best_Oracle","x":99,"y":1.0},
  {"p":"d","s":"Hyp_Worst_Oracle","x":0,"y":0.302},{"p":"d","s":"Hyp_Worst_Oracle","x":10,"y":0.338},{"p":"d","s":"Hyp_Worst_Oracle","x":20,"y":0.381},{"p":"d","s":"Hyp_Worst_Oracle","x":30,"y":0.436},{"p":"d","s":"Hyp_Worst_Oracle","x":40,"y":0.507},{"p":"d","s":"Hyp_Worst_Oracle","x":50,"y":0.598},{"p":"d","s":"Hyp_Worst_Oracle","x":59,"y":0.68},{"p":"d","s":"Hyp_Worst_Oracle","x":65,"y":0.75},{"p":"d","s":"Hyp_Worst_Oracle","x":70,"y":0.805},{"p":"d","s":"Hyp_Worst_Oracle","x":72,"y":0.83},{"p":"d","s":"Hyp_Worst_Oracle","x":76,"y":0.87},{"p":"d","s":"Hyp_Worst_Oracle","x":80,"y":0.906},{"p":"d","s":"Hyp_Worst_Oracle","x":82,"y":0.91},{"p":"d","s":"Hyp_Worst_Oracle","x":85,"y":0.935},{"p":"d","s":"Hyp_Worst_Oracle","x":88,"y":0.96},{"p":"d","s":"Hyp_Worst_Oracle","x":90,"y":0.975},{"p":"d","s":"Hyp_Worst_Oracle","x":92,"y":0.999},{"p":"d","s":"Hyp_Worst_Oracle","x":99,"y":1.0},
  {"p":"d","s":"Hyp_Average_Oracle","x":0,"y":0.305},{"p":"d","s":"Hyp_Average_Oracle","x":10,"y":0.34},{"p":"d","s":"Hyp_Average_Oracle","x":20,"y":0.383},{"p":"d","s":"Hyp_Average_Oracle","x":30,"y":0.438},{"p":"d","s":"Hyp_Average_Oracle","x":40,"y":0.509},{"p":"d","s":"Hyp_Average_Oracle","x":50,"y":0.599},{"p":"d","s":"Hyp_Average_Oracle","x":60,"y":0.69},{"p":"d","s":"Hyp_Average_Oracle","x":65,"y":0.735},{"p":"d","s":"Hyp_Average_Oracle","x":70,"y":0.785},{"p":"d","s":"Hyp_Average_Oracle","x":72,"y":0.804},{"p":"d","s":"Hyp_Average_Oracle","x":76,"y":0.835},{"p":"d","s":"Hyp_Average_Oracle","x":80,"y":0.874},{"p":"d","s":"Hyp_Average_Oracle","x":83,"y":0.895},{"p":"d","s":"Hyp_Average_Oracle","x":86,"y":0.913},{"p":"d","s":"Hyp_Average_Oracle","x":88,"y":0.935},{"p":"d","s":"Hyp_Average_Oracle","x":90,"y":0.958},{"p":"d","s":"Hyp_Average_Oracle","x":92,"y":0.965},{"p":"d","s":"Hyp_Average_Oracle","x":95,"y":0.996},{"p":"d","s":"Hyp_Average_Oracle","x":97,"y":1.0},{"p":"d","s":"Hyp_Average_Oracle","x":99,"y":1.0}
 ]
},
"data": {"name": "d"},
"columns": 2,
"spacing": {"row": 123.3, "column": 76.6},
"bounds": "flush",
"resolve": {"scale": {"x": "independent", "y": "independent", "color": "independent", "strokeDash": "independent"}, "legend": {"color": "independent", "strokeDash": "independent"}},
"concat": [
 {"width": 269, "height": 201, "title": {"text": "(a) Breakfast-Object"}, "transform": [{"filter": "datum.p == 'a'"}],
  "mark": {"type": "line", "strokeWidth": 1.5, "clip": true},
  "encoding": {
   "x": {"field": "x", "type": "quantitative", "title": "Fraction of Removed Samples", "scale": {"domain": [-5, 103.5], "nice": false, "zero": false}, "axis": {"values": [0, 20, 40, 60, 80, 100]}},
   "y": {"field": "y", "type": "quantitative", "title": "Accuracy", "scale": {"domain": [0.3185, 1.0346], "nice": false, "zero": false}, "axis": {"values": [0.4, 0.5, 0.6, 0.7, 0.8, 0.9, 1.0], "format": ".1f"}},
   "color": {"field": "s", "type": "nominal", "scale": {"domain": ["Hyp_Best_Entorpy", "Hyp_Worst_Entropy", "Hyp_Average_Entropy", "Hyp_Best_Oracle", "Hyp_Worst_Oracle", "Hyp_Average_Oracle"], "range": ["#1f77b4", "#ff7f0e", "#2ca02c", "#d62728", "#9467bd", "#8c564b"]}},
   "strokeDash": {"field": "s", "type": "nominal", "scale": {"domain": ["Hyp_Best_Entorpy", "Hyp_Worst_Entropy", "Hyp_Average_Entropy", "Hyp_Best_Oracle", "Hyp_Worst_Oracle", "Hyp_Average_Oracle"], "range": [[5.5, 2.5], [5.5, 2.5], [5.5, 2.5], [1, 0], [1, 0], [1, 0]]}}
  }},
 {"width": 263, "height": 201, "title": {"text": "(b) Breakfast-Action"}, "transform": [{"filter": "datum.p == 'b'"}],
  "mark": {"type": "line", "strokeWidth": 1.5, "clip": true},
  "encoding": {
   "x": {"field": "x", "type": "quantitative", "title": "Fraction of Removed Samples", "scale": {"domain": [-5.03, 101.75], "nice": false, "zero": false}, "axis": {"values": [0, 20, 40, 60, 80, 100], "labelFlush": 8}},
   "y": {"field": "y", "type": "quantitative", "title": "Accuracy", "scale": {"domain": [0.389, 1.031], "nice": false, "zero": false}, "axis": {"values": [0.4, 0.5, 0.6, 0.7, 0.8, 0.9, 1.0], "format": ".1f"}},
   "color": {"field": "s", "type": "nominal", "scale": {"domain": ["Hyp_Best_Entorpy", "Hyp_Worst_Entropy", "Hyp_Average_Entropy", "Hyp_Best_Oracle", "Hyp_Worst_Oracle", "Hyp_Average_Oracle"], "range": ["#1f77b4", "#ff7f0e", "#2ca02c", "#d62728", "#9467bd", "#8c564b"]}},
   "strokeDash": {"field": "s", "type": "nominal", "scale": {"domain": ["Hyp_Best_Entorpy", "Hyp_Worst_Entropy", "Hyp_Average_Entropy", "Hyp_Best_Oracle", "Hyp_Worst_Oracle", "Hyp_Average_Oracle"], "range": [[5.5, 2.5], [5.5, 2.5], [5.5, 2.5], [1, 0], [1, 0], [1, 0]]}}
  }},
 {"width": 269, "height": 200, "title": {"text": "(c) EpicKitchen-Object"}, "transform": [{"filter": "datum.p == 'c'"}],
  "mark": {"type": "line", "strokeWidth": 1.5, "clip": true},
  "encoding": {
   "x": {"field": "x", "type": "quantitative", "title": "Fraction of Removed Samples", "scale": {"domain": [-5, 103.5], "nice": false, "zero": false}, "axis": {"values": [0, 20, 40, 60, 80, 100]}},
   "y": {"field": "y", "type": "quantitative", "title": "Accuracy", "scale": {"domain": [0.1045, 1.0456], "nice": false, "zero": false}, "axis": {"values": [0.2, 0.4, 0.6, 0.8, 1.0], "format": ".1f"}},
   "color": {"field": "s", "type": "nominal", "scale": {"domain": ["Hyp_Best_Entorpy", "Hyp_Worst_Entropy", "Hyp_Average_Entropy", "Hyp_Best_Oracle", "Hyp_Worst_Oracle", "Hyp_Average_Oracle"], "range": ["#1f77b4", "#ff7f0e", "#2ca02c", "#d62728", "#9467bd", "#8c564b"]}},
   "strokeDash": {"field": "s", "type": "nominal", "scale": {"domain": ["Hyp_Best_Entorpy", "Hyp_Worst_Entropy", "Hyp_Average_Entropy", "Hyp_Best_Oracle", "Hyp_Worst_Oracle", "Hyp_Average_Oracle"], "range": [[5.5, 2.5], [5.5, 2.5], [5.5, 2.5], [1, 0], [1, 0], [1, 0]]}}
  }},
 {"width": 263, "height": 200, "title": {"text": "(d) EpicKitchen-Action"}, "transform": [{"filter": "datum.p == 'd'"}],
  "mark": {"type": "line", "strokeWidth": 1.5, "clip": true},
  "encoding": {
   "x": {"field": "x", "type": "quantitative", "title": "Fraction of Removed Samples", "scale": {"domain": [-5.03, 101.75], "nice": false, "zero": false}, "axis": {"values": [0, 20, 40, 60, 80, 100], "labelFlush": 8}},
   "y": {"field": "y", "type": "quantitative", "title": "Accuracy", "scale": {"domain": [0.268, 1.037], "nice": false, "zero": false}, "axis": {"values": [0.3, 0.4, 0.5, 0.6, 0.7, 0.8, 0.9, 1.0], "format": ".1f"}},
   "color": {"field": "s", "type": "nominal", "scale": {"domain": ["Hyp_Best_Entorpy", "Hyp_Worst_Entropy", "Hyp_Average_Entropy", "Hyp_Best_Oracle", "Hyp_Worst_Oracle", "Hyp_Average_Oracle"], "range": ["#1f77b4", "#ff7f0e", "#2ca02c", "#d62728", "#9467bd", "#8c564b"]}},
   "strokeDash": {"field": "s", "type": "nominal", "scale": {"domain": ["Hyp_Best_Entorpy", "Hyp_Worst_Entropy", "Hyp_Average_Entropy", "Hyp_Best_Oracle", "Hyp_Worst_Oracle", "Hyp_Average_Oracle"], "range": [[5.5, 2.5], [5.5, 2.5], [5.5, 2.5], [1, 0], [1, 0], [1, 0]]}}
  }}
]
}
